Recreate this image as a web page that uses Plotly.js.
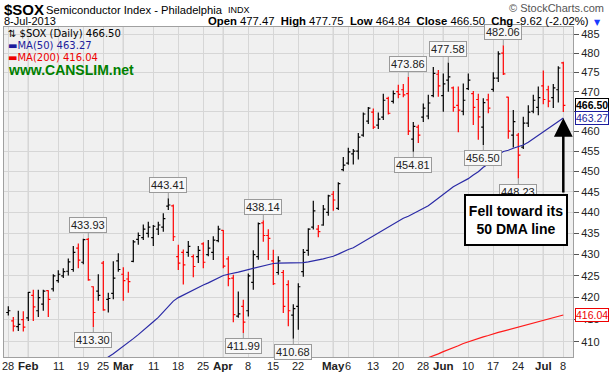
<!DOCTYPE html>
<html>
<head>
<meta charset="utf-8">
<script src="https://cdn.plot.ly/plotly-3.0.1.min.js"></script>
<style>html,body{margin:0;padding:0;background:#fff;}#chart{width:613px;height:375px;}</style>
</head>
<body>
<div id="chart"></div>
<script>
// ---------- DATA ----------
const dates = [
 "2013-01-28","2013-01-29","2013-01-30","2013-01-31",
 "2013-02-01","2013-02-04","2013-02-05","2013-02-06","2013-02-07","2013-02-08","2013-02-11","2013-02-12","2013-02-13","2013-02-14","2013-02-15","2013-02-19","2013-02-20","2013-02-21","2013-02-22","2013-02-25","2013-02-26","2013-02-27","2013-02-28",
 "2013-03-01","2013-03-04","2013-03-05","2013-03-06","2013-03-07","2013-03-08","2013-03-11","2013-03-12","2013-03-13","2013-03-14","2013-03-15","2013-03-18","2013-03-19","2013-03-20","2013-03-21","2013-03-22","2013-03-25","2013-03-26","2013-03-27","2013-03-28",
 "2013-04-01","2013-04-02","2013-04-03","2013-04-04","2013-04-05","2013-04-08","2013-04-09","2013-04-10","2013-04-11","2013-04-12","2013-04-15","2013-04-16","2013-04-17","2013-04-18","2013-04-19","2013-04-22","2013-04-23","2013-04-24","2013-04-25","2013-04-26","2013-04-29","2013-04-30",
 "2013-05-01","2013-05-02","2013-05-03","2013-05-06","2013-05-07","2013-05-08","2013-05-09","2013-05-10","2013-05-13","2013-05-14","2013-05-15","2013-05-16","2013-05-17","2013-05-20","2013-05-21","2013-05-22","2013-05-23","2013-05-24","2013-05-28","2013-05-29","2013-05-30","2013-05-31",
 "2013-06-03","2013-06-04","2013-06-05","2013-06-06","2013-06-07","2013-06-10","2013-06-11","2013-06-12","2013-06-13","2013-06-14","2013-06-17","2013-06-18","2013-06-19","2013-06-20","2013-06-21","2013-06-24","2013-06-25","2013-06-26","2013-06-27","2013-06-28",
 "2013-07-01","2013-07-02","2013-07-03","2013-07-05","2013-07-08"
];
const opens = [
 416.6,414.7,413.4,415.0,
 415.4,420.5,417.0,418.5,421.6,422.0,423.9,425.0,426.1,426.5,431.5,428.2,433.6,422.5,421.5,428.0,419.6,421.0,428.5,
 425.4,424.3,428.4,433.6,434.0,435.0,434.0,436.0,436.5,441.5,441.6,429.5,430.5,430.5,429.5,429.5,432.5,430.0,430.5,433.3,
 435.7,429.0,424.5,415.8,418.0,417.0,423.5,429.5,437.5,434.5,428.5,425.8,425.8,423.0,416.0,418.0,426.0,431.0,436.5,436.0,437.0,440.0,
 444.4,441.0,450.4,452.0,454.3,455.0,459.0,462.5,464.8,461.5,463.5,468.3,467.5,470.0,470.5,469.5,458.0,461.0,463.5,463.8,469.0,474.5,
 469.0,473.0,471.0,466.5,465.0,470.8,469.5,468.0,461.0,467.9,470.6,473.5,480.0,468.6,459.0,459.0,456.0,462.0,465.0,466.0,
 471.5,470.5,468.5,470.5,477.47
];
const highs = [
 418.0,415.6,417.0,416.9,
 421.3,421.8,421.8,421.8,421.7,425.4,426.3,426.8,429.1,432.0,432.6,433.7,433.93,422.6,425.4,428.5,421.1,428.4,430.3,
 427.0,426.0,433.4,435.2,437.1,437.8,437.0,437.8,439.8,443.41,441.9,432.3,431.2,433.2,430.0,432.0,432.9,433.4,434.3,436.8,
 435.8,429.6,425.3,421.4,419.5,425.6,431.0,437.6,438.14,436.0,431.1,429.6,426.4,424.0,418.5,423.3,431.3,436.2,442.8,437.0,441.8,444.3,
 445.2,447.3,453.5,455.8,455.5,459.5,464.7,466.1,465.7,464.7,469.5,468.7,470.3,471.8,472.0,473.86,462.3,461.6,467.0,469.2,476.4,475.6,
 474.7,477.58,471.3,471.3,472.1,474.7,470.2,469.5,468.3,469.5,475.0,480.5,482.06,468.7,465.3,459.5,463.6,466.5,469.2,471.3,
 475.5,471.5,472.0,476.6,477.75
];
const lows = [
 415.9,412.3,412.4,412.3,
 414.7,414.7,415.6,417.0,415.6,421.4,423.4,424.5,425.1,426.0,426.8,427.7,423.9,413.30,419.3,417.0,416.6,419.6,426.0,
 419.3,421.1,428.2,432.3,433.4,434.0,432.0,434.6,435.4,440.6,433.2,426.4,423.0,429.5,424.7,428.0,426.8,429.6,428.7,432.9,
 426.8,422.6,414.4,415.4,411.99,415.7,421.8,428.8,433.0,428.7,422.9,425.3,416.5,413.5,410.68,412.7,424.8,429.7,435.9,434.1,436.8,439.2,
 440.4,440.6,450.0,451.6,451.7,452.9,458.6,461.8,460.5,460.5,462.8,464.2,467.0,468.3,468.6,459.0,454.81,457.0,462.3,463.0,468.6,468.7,
 464.9,470.0,464.9,459.7,464.0,470.4,461.5,457.8,456.50,464.5,470.0,472.5,474.3,458.1,455.9,448.23,455.5,461.0,464.5,464.0,
 466.8,466.0,465.8,467.2,464.84
];
const closes = [
 417.0,413.5,413.9,413.3,
 421.2,417.9,420.0,421.5,419.6,425.0,425.4,426.0,428.3,430.5,428.7,433.5,424.1,416.6,420.5,417.2,419.8,424.5,426.5,
 423.9,423.7,433.0,434.5,436.0,436.5,436.7,437.0,438.5,441.8,434.2,428.0,427.6,431.9,427.2,431.0,428.2,431.5,433.4,436.0,
 427.3,424.4,416.1,416.3,414.4,425.0,430.0,437.3,434.5,433.8,423.2,428.5,418.0,417.0,417.5,422.5,430.5,436.0,440.4,435.4,440.8,444.0,
 443.0,447.0,451.5,454.8,455.0,458.5,464.3,465.8,461.0,463.0,467.8,464.5,469.5,469.3,469.2,460.0,461.2,459.0,465.8,467.1,474.7,471.5,
 472.0,473.8,466.0,465.3,467.8,473.0,466.0,463.6,467.2,465.8,473.5,479.8,474.6,460.0,462.4,454.0,462.0,464.8,467.8,468.5,
 468.0,467.6,471.0,476.12,466.50
];
const ma50 = [
 null,null,null,null,null,null,null,null,null,null,null,null,null,null,null,null,null,
 403.9,404.8,405.7,406.6,407.3,408.1,
 409.0,409.8,410.7,411.6,412.5,413.4,414.5,415.5,416.8,418.1,419.2,420.0,420.6,421.1,421.7,422.3,422.9,423.4,424.0,424.6,
 425.1,425.4,425.6,425.9,426.2,426.5,426.7,427.1,427.4,427.7,427.9,428.0,428.0,428.0,428.0,428.0,428.1,428.3,428.5,428.7,429.0,429.3,
 429.6,430.1,430.7,431.2,431.6,432.3,432.9,433.6,434.3,435.0,435.7,436.4,437.2,438.0,438.6,439.1,439.7,440.2,440.9,441.6,442.5,443.4,
 444.4,445.4,446.2,446.9,447.5,448.2,449.1,449.9,451.0,451.8,453.0,454.1,454.9,455.2,455.7,456.1,456.5,457.2,458.1,459.0,
 459.9,460.6,461.5,462.4,463.27
];
const ma200 = [
 null,null,null,null,
 null,null,null,null,null,null,null,null,null,null,null,null,null,null,null,null,null,null,null,
 null,null,null,null,null,null,null,null,null,null,null,null,null,null,null,null,null,null,null,null,
 null,null,null,null,null,null,null,null,null,null,null,null,null,null,null,null,null,null,null,null,null,null,
 null,null,null,null,null,null,null,null,null,null,null,null,null,null,null,null,null,405.6,406.0,406.5,406.9,407.3,
 407.8,408.2,408.7,409.1,409.6,410.0,410.4,410.8,411.1,411.4,411.8,412.1,412.4,412.7,413.0,413.3,413.6,413.9,414.2,414.5,
 414.8,415.1,415.4,415.7,416.04
];
const tickDates = ["2013-01-28","2013-02-01","2013-02-11","2013-02-19","2013-02-25","2013-03-01","2013-03-11","2013-03-18","2013-03-25","2013-04-01","2013-04-08","2013-04-15","2013-04-22","2013-05-01","2013-05-06","2013-05-13","2013-05-20","2013-05-28","2013-06-03","2013-06-10","2013-06-17","2013-06-24","2013-07-01","2013-07-08"];
const tickLabels = ["28","Feb","11","19","25","Mar","11","18","25","Apr","8","15","22","May","6","13","20","28","Jun","10","17","24","Jul","8"];
const monthStarts = ["2013-02-01","2013-03-01","2013-04-01","2013-05-01","2013-06-03","2013-07-01"];
const priceTicks = [410,415,420,425,430,435,440,445,450,455,460,465,470,475,480,485];
const highCallouts = ["2013-02-20","2013-03-14","2013-04-11","2013-05-22","2013-06-04","2013-06-19"];
const lowCallouts = ["2013-02-21","2013-04-05","2013-04-19","2013-05-23","2013-06-13","2013-06-24"];
const symbol = "$SOX";
const symbolName = "Semiconductor Index - Philadelphia";
const exchange = "INDX";
const noteText = "Fell toward its<br>50 DMA line";

// ---------- BUILD ----------
const N = dates.length;
const upIdx = [], dnIdx = [];
for (let i = 0; i < N; i++) {
  if (i === 0 || closes[i] >= closes[i-1]) upIdx.push(i); else dnIdx.push(i);
}
function pick(arr, idx) { return idx.map(i => arr[i]); }
function ohlcTrace(idx, color) {
  return {
    type: 'ohlc', x: pick(dates, idx), open: pick(opens, idx), high: pick(highs, idx),
    low: pick(lows, idx), close: pick(closes, idx),
    increasing: {line: {color: color, width: 1.2}},
    decreasing: {line: {color: color, width: 1.2}},
    tickwidth: 0.42, hoverinfo: 'skip', showlegend: false
  };
}
const last = N - 1;
const fmt = v => v.toFixed(2);
const chg = closes[last] - closes[last-1];
const pct = chg / closes[last-1] * 100;

const traces = [
  {type:'scatter', mode:'lines', x: dates, y: ma50, line:{color:'#2a2aa6', width:1.2}, hoverinfo:'skip', showlegend:false, connectgaps:false},
  {type:'scatter', mode:'lines', x: dates, y: ma200, line:{color:'#ff1a1a', width:1.2}, hoverinfo:'skip', showlegend:false, connectgaps:false},
  ohlcTrace(upIdx, '#000000'),
  ohlcTrace(dnIdx, '#ff0000')
];

// pixel -> paper helpers (plot area: x 4..573, y 27..357)
const PX = px => (px - 4) / 569;
const PY = py => (357 - py) / 330;
const L10 = v => Math.log10(v);

const annotations = [];
// x tick labels
tickDates.forEach((d, k) => {
  const isMonth = monthStarts.indexOf(d) >= 0;
  annotations.push({xref:'x', yref:'paper', x:d, y:PY(366), xanchor:'center', yanchor:'middle', showarrow:false,
    text: isMonth ? '<b>'+tickLabels[k]+'</b>' : tickLabels[k],
    font:{family:'Arial', size: isMonth ? 11.5 : 11, color:'#222'}});
});
highCallouts.forEach(d => {
  const i = dates.indexOf(d);
  annotations.push({x: d, y: L10(highs[i]), xref:'x', yref:'y', text: fmt(highs[i]),
    showarrow:true, arrowhead:0, arrowwidth:1, arrowcolor:'#9a9a9a', ax:0, ay:-13, standoff:0,
    bgcolor:'#f8f8f8', bordercolor:'#9a9a9a', borderwidth:1, borderpad:1,
    font:{family:'Arial', size:11, color:'#222'}});
});
lowCallouts.forEach(d => {
  const i = dates.indexOf(d);
  annotations.push({x: d, y: L10(lows[i]), xref:'x', yref:'y', text: fmt(lows[i]),
    showarrow:true, arrowhead:0, arrowwidth:1, arrowcolor:'#9a9a9a', ax:0, ay:13, standoff:0,
    bgcolor:'#f8f8f8', bordercolor:'#9a9a9a', borderwidth:1, borderpad:1,
    font:{family:'Arial', size:11, color:'#222'}});
});
// header
annotations.push({xref:'paper', yref:'paper', x:PX(2), y:PY(9), xanchor:'left', yanchor:'middle', showarrow:false,
  text:'<b>'+symbol+'</b>', font:{family:'Arial', size:15, color:'#000'}});
annotations.push({xref:'paper', yref:'paper', x:PX(44), y:PY(9.5), xanchor:'left', yanchor:'middle', showarrow:false,
  text:symbolName, font:{family:'Arial', size:11.2, color:'#000'}});
annotations.push({xref:'paper', yref:'paper', x:PX(226), y:PY(10), xanchor:'left', yanchor:'middle', showarrow:false,
  text:exchange, font:{family:'Arial', size:9, color:'#000'}});
annotations.push({xref:'paper', yref:'paper', x:PX(2), y:PY(21), xanchor:'left', yanchor:'middle', showarrow:false,
  text:'8-Jul-2013', font:{family:'Arial', size:11, color:'#000'}});
annotations.push({xref:'paper', yref:'paper', x:PX(606), y:PY(8), xanchor:'right', yanchor:'middle', showarrow:false,
  text:'© StockCharts.com', font:{family:'Arial', size:11, color:'#555'}});
annotations.push({xref:'paper', yref:'paper', x:PX(591), y:PY(21), xanchor:'right', yanchor:'middle', showarrow:false,
  text:'<b>Open</b> '+fmt(opens[last])+'  <b>High</b> '+fmt(highs[last])+'  <b>Low</b> '+fmt(lows[last])+'  <b>Close</b> '+fmt(closes[last])+'  <b>Chg</b> '+fmt(chg)+' ('+fmt(pct)+'%)',
  font:{family:'Arial', size:11.3, color:'#000'}});
annotations.push({xref:'paper', yref:'paper', x:PX(597), y:PY(22), xanchor:'center', yanchor:'middle', showarrow:false,
  text:'▼', font:{family:'DejaVu Sans', size:8, color:'#1a3cff'}});
// legend
annotations.push({xref:'paper', yref:'paper', x:PX(6), y:PY(33), xanchor:'left', yanchor:'middle', showarrow:false,
  text:'⇅ '+symbol+' (Daily) '+fmt(closes[last]), font:{family:'DejaVu Sans', size:10, color:'#000'}});
annotations.push({xref:'paper', yref:'paper', x:PX(6), y:PY(45.5), xanchor:'left', yanchor:'middle', showarrow:false,
  text:'▬MA(50) '+fmt(ma50[last]), font:{family:'DejaVu Sans', size:10, color:'#1c1c9c'}});
annotations.push({xref:'paper', yref:'paper', x:PX(6), y:PY(57.5), xanchor:'left', yanchor:'middle', showarrow:false,
  text:'▬MA(200) '+fmt(ma200[last]), font:{family:'DejaVu Sans', size:10, color:'#ee0000'}});
annotations.push({xref:'paper', yref:'paper', x:PX(6), y:PY(69.5), xanchor:'left', yanchor:'middle', showarrow:false,
  text:'<b>www.CANSLIM.net</b>', font:{family:'Arial', size:14, color:'#008000'}});
// right value boxes
[[closes[last], '#000', true], [ma50[last], '#1c1c9c', false], [ma200[last], '#ee0000', false]].forEach(r => {
  annotations.push({xref:'paper', yref:'y', x:1, y:L10(r[0]), xanchor:'left', yanchor:'middle', xshift:2, showarrow:false,
    text: r[2] ? '<b>'+fmt(r[0])+'</b>' : fmt(r[0]), bgcolor:'#fff', bordercolor:r[1], borderwidth:1, borderpad:0,
    font:{family:'Arial', size:10.5, color:r[1]}});
});
// note box and arrow
annotations.push({xref:'paper', yref:'paper', x:PX(516), y:PY(220), xanchor:'center', yanchor:'middle', showarrow:false,
  text:'<b>'+noteText+'</b>', width:98, height:46, align:'center', bgcolor:'#fff', bordercolor:'#000', borderwidth:2, borderpad:1,
  font:{family:'Arial', size:14, color:'#000'}});
annotations.push({xref:'x', yref:'y', x:dates[last], y:L10(ma50[last]), showarrow:true, text:'', ax:0, ay:76, standoff:0,
  arrowhead:2, arrowsize:1.5, arrowwidth:2.5, arrowcolor:'#000'});

const shapes = monthStarts.map(d => ({type:'line', xref:'x', yref:'paper', x0:dates.indexOf(d), x1:dates.indexOf(d), y0:0, y1:1,
  line:{color:'#a8a8a8', width:1}, layer:'below'}));

const layout = {
  width: 613, height: 375,
  margin: {l:4, r:40, t:27, b:18, pad:0},
  paper_bgcolor:'#ffffff', plot_bgcolor:'#f0f0f0',
  showlegend:false,
  xaxis: {type:'category', categoryorder:'array', categoryarray: dates, range:[-0.86, 112.94],
    tickmode:'array', tickvals: tickDates, ticktext: tickLabels, showticklabels:false, showgrid:true, gridcolor:'#d6d6d6', gridwidth:1,
    ticks:'', showline:true, linecolor:'#a0a0a0', mirror:true,
    rangeslider:{visible:false}, fixedrange:true, zeroline:false},
  yaxis: {type:'log', side:'right', range:[Math.log10(406.6), Math.log10(486.9)], tickmode:'array', tickvals: priceTicks,
    ticktext: priceTicks.map(String), showgrid:true, gridcolor:'#d6d6d6', ticks:'outside', ticklen:5, tickcolor:'#555',
    tickfont:{family:'Arial', size:11, color:'#222'}, showline:true, linecolor:'#a0a0a0', mirror:true, fixedrange:true, zeroline:false},
  annotations: annotations,
  shapes: shapes
};
Plotly.newPlot('chart', traces, layout, {displayModeBar:false, staticPlot:true});
</script>
</body>
</html>
